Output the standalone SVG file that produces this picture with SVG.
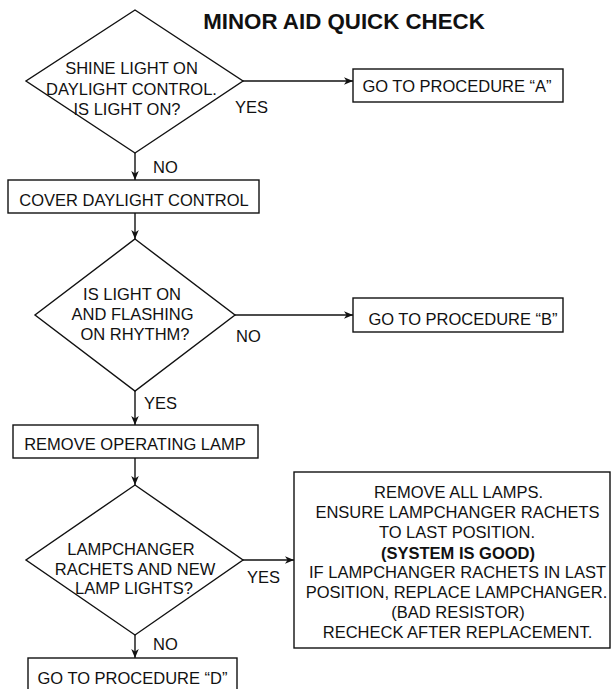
<svg xmlns="http://www.w3.org/2000/svg" width="611" height="689" viewBox="0 0 611 689">
<defs>
<style>
.shape{fill:#fff;stroke:#111;stroke-width:1.4}
.conn{stroke:#111;stroke-width:1.4;fill:none}
text{font-family:"Liberation Sans",Arial,sans-serif;font-size:16.5px;fill:#111}
.c{text-anchor:middle}
.title{font-size:22.3px;font-weight:bold}
.b{font-weight:bold}
</style>
<marker id="arr" viewBox="0 0 10 10" refX="10" refY="5" markerWidth="9" markerHeight="9" markerUnits="userSpaceOnUse" orient="auto">
<path d="M0,0.8 L10,5 L0,9.2 L2.8,5 z" fill="#111"/>
</marker>
</defs>
<rect width="611" height="689" fill="#fff"/>
<text class="title c" x="344" y="29">MINOR AID QUICK CHECK</text>

<g id="connectors">
<line class="conn" x1="243" y1="81" x2="353" y2="81" marker-end="url(#arr)"/>
<line class="conn" x1="135" y1="153" x2="135" y2="180" marker-end="url(#arr)"/>
<line class="conn" x1="135" y1="213" x2="135" y2="239" marker-end="url(#arr)"/>
<line class="conn" x1="235" y1="315" x2="353" y2="315" marker-end="url(#arr)"/>
<line class="conn" x1="135" y1="391" x2="135" y2="425" marker-end="url(#arr)"/>
<line class="conn" x1="135" y1="458" x2="135" y2="485" marker-end="url(#arr)"/>
<line class="conn" x1="243" y1="560" x2="294" y2="560" marker-end="url(#arr)"/>
<line class="conn" x1="135" y1="635" x2="135" y2="658" marker-end="url(#arr)"/>
<text x="235" y="113">YES</text>
<text x="153" y="173">NO</text>
<text x="236" y="342">NO</text>
<text x="144" y="409">YES</text>
<text x="247" y="583">YES</text>
<text x="153" y="650">NO</text>
</g>

<g id="d1">
<polygon class="shape" points="135,10 243,81 135,153 26,81"/>
<text class="c" x="131.5" y="74">SHINE LIGHT ON</text>
<text class="c" x="131.5" y="95">DAYLIGHT CONTROL.</text>
<text class="c" x="127" y="115">IS LIGHT ON?</text>
</g>

<g id="procA">
<rect class="shape" x="353" y="69" width="210" height="33"/>
<text class="c" x="457" y="92">GO TO PROCEDURE “A”</text>
</g>

<g id="cover">
<rect class="shape" x="8" y="180" width="251" height="33"/>
<text class="c" x="134" y="206">COVER DAYLIGHT CONTROL</text>
</g>

<g id="d2">
<polygon class="shape" points="135,239 235,315 135,391 35,315"/>
<text class="c" x="132" y="300">IS LIGHT ON</text>
<text class="c" x="132.5" y="320">AND FLASHING</text>
<text class="c" x="135" y="340">ON RHYTHM?</text>
</g>

<g id="procB">
<rect class="shape" x="353" y="298" width="210" height="34"/>
<text class="c" x="463" y="325">GO TO PROCEDURE “B”</text>
</g>

<g id="remove">
<rect class="shape" x="13" y="425" width="245" height="33"/>
<text class="c" x="135" y="450">REMOVE OPERATING LAMP</text>
</g>

<g id="d3">
<polygon class="shape" points="135,485 243,560 135,635 26,560"/>
<text class="c" x="131" y="555">LAMPCHANGER</text>
<text class="c" x="135" y="575">RACHETS AND NEW</text>
<text class="c" x="134" y="594">LAMP LIGHTS?</text>
</g>

<g id="result">
<rect class="shape" x="294" y="472" width="316" height="176"/>
<text class="c" x="458.5" y="498">REMOVE ALL LAMPS.</text>
<text class="c" x="457.5" y="518">ENSURE LAMPCHANGER RACHETS</text>
<text class="c" x="457" y="538">TO LAST POSITION.</text>
<text class="c b" x="458" y="559">(SYSTEM IS GOOD)</text>
<text class="c" x="457.5" y="578">IF LAMPCHANGER RACHETS IN LAST</text>
<text class="c" x="456.5" y="598">POSITION, REPLACE LAMPCHANGER.</text>
<text class="c" x="458" y="618">(BAD RESISTOR)</text>
<text class="c" x="457.5" y="638">RECHECK AFTER REPLACEMENT.</text>
</g>

<g id="procD">
<rect class="shape" x="28" y="658" width="209" height="34"/>
<text class="c" x="132.5" y="684">GO TO PROCEDURE “D”</text>
</g>
</svg>
